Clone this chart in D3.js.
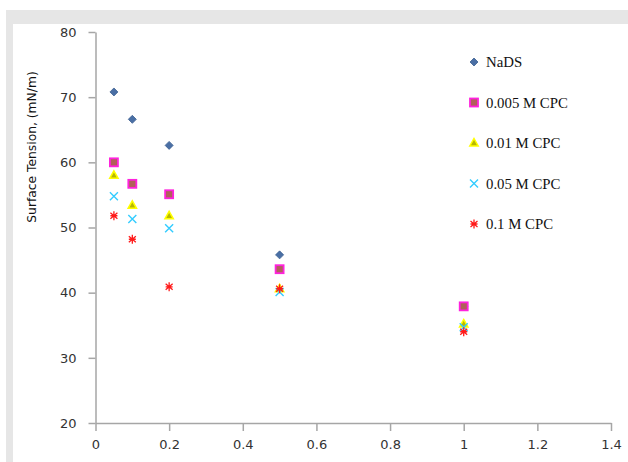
<!DOCTYPE html>
<html>
<head>
<meta charset="utf-8">
<script src="https://cdn.jsdelivr.net/npm/d3@7"></script>
<style>
  body { margin: 0; background: #fff; }
  svg { display: block; }
</style>
</head>
<body>
<div id="chart"></div>
<script>
// concentrations (x) and surface tension values per series
var conc = [0.05, 0.1, 0.2, 0.5, 1];
var nads = [70.8, 66.6, 62.6, 45.8, 37.9];
var cpc005 = [60.0, 56.7, 55.1, 43.6, 37.9];
var cpc01 = [58.0, 53.4, 51.8, 40.6, 35.2];
var cpc05 = [54.8, 51.3, 49.9, 40.1, 34.7];
var cpc1 = [51.8, 48.2, 40.9, 40.6, 34.0];
var seriesNames = ["NaDS", "0.005 M CPC", "0.01 M CPC", "0.05 M CPC", "0.1 M CPC"];
var xTicks = [0, 0.2, 0.4, 0.6, 0.8, 1, 1.2, 1.4];
var yTicks = [20, 30, 40, 50, 60, 70, 80];

var W = 628, H = 462;
var svg = d3.select("#chart").append("svg")
    .attr("width", W)
    .attr("height", H);

// gray frame bands
svg.append("rect").attr("x", 6).attr("y", 10).attr("width", W - 6).attr("height", 14).attr("fill", "#e6e6e6");
svg.append("rect").attr("x", 6).attr("y", 10).attr("width", 7).attr("height", H - 10).attr("fill", "#e6e6e6");

var x = d3.scaleLinear().domain([0, 1.4]).range([95.5, 611]);
var y = d3.scaleLinear().domain([20, 80]).range([423, 32]);

var axisColor = "#a6a6a6";

var yAxis = svg.append("g")
    .attr("transform", "translate(95.5,0)")
    .call(d3.axisLeft(y).tickValues(yTicks).tickSize(7).tickPadding(12).tickSizeOuter(0));
var xAxis = svg.append("g")
    .attr("transform", "translate(0,423)")
    .call(d3.axisBottom(x).tickValues(xTicks).tickSize(8).tickPadding(9)
        .tickFormat(d3.format("~g")).tickSizeOuter(0));

[xAxis, yAxis].forEach(function(g) {
    g.select(".domain").attr("stroke", axisColor).attr("stroke-width", 1.5);
    g.selectAll(".tick line").attr("stroke", axisColor).attr("stroke-width", 1.5);
    g.selectAll(".tick text")
        .attr("fill", "#333")
        .style("font-family", "'DejaVu Sans', sans-serif")
        .style("font-size", "13px");
});

svg.append("text")
    .attr("transform", "translate(36,147) rotate(-90)")
    .attr("text-anchor", "middle")
    .style("font-family", "'DejaVu Sans', sans-serif")
    .style("font-size", "12.3px")
    .attr("fill", "#111")
    .text("Surface Tension, (mN/m)");

// marker drawers
function diamond(g) {
    g.append("path").attr("d", "M0,-4L4,0L0,4L-4,0Z").attr("fill", "#4a6fa5").attr("stroke", "#3c5f91").attr("stroke-width", 0.8);
}
function square(g) {
    g.append("rect").attr("x", -4).attr("y", -4).attr("width", 8).attr("height", 8)
        .attr("fill", "#b0605a").attr("stroke", "#ff22dd").attr("stroke-width", 1.8);
}
function triangle(g) {
    g.append("path").attr("d", "M0,-4.5L4.2,3L-4.2,3Z").attr("fill", "#b8b800").attr("stroke", "#ffff00").attr("stroke-width", 1.5);
}
function cross(g) {
    g.append("path").attr("d", "M-4,-4L4,4M-4,4L4,-4").attr("stroke", "#33ccff").attr("stroke-width", 1.4).attr("fill", "none");
}
function star(g) {
    g.append("path").attr("d", "M-3.5,-3L3.5,3M-3.5,3L3.5,-3M0,-4.5L0,4.5M-3.5,0L3.5,0")
        .attr("stroke", "#ff1a1a").attr("stroke-width", 1.3).attr("fill", "none");
}

var series = [
    { name: seriesNames[0], values: nads, draw: diamond },
    { name: seriesNames[1], values: cpc005, draw: square },
    { name: seriesNames[2], values: cpc01, draw: triangle },
    { name: seriesNames[3], values: cpc05, draw: cross },
    { name: seriesNames[4], values: cpc1, draw: star }
];

series.forEach(function(s) {
    var pts = svg.append("g").selectAll("g")
        .data(s.values)
        .enter()
        .append("g")
        .attr("transform", function(d, i) { return "translate(" + x(conc[i]) + "," + y(d) + ")"; });
    pts.each(function() { s.draw(d3.select(this)); });
});

// legend
var legend = svg.append("g").attr("transform", "translate(474,62)");
series.forEach(function(s, i) {
    var row = legend.append("g").attr("transform", "translate(0," + (i * 40.5) + ")");
    s.draw(row.append("g"));
    row.append("text")
        .attr("x", 12)
        .attr("y", 5)
        .style("font-family", "'Liberation Serif', serif")
        .style("font-size", "14.8px")
        .attr("fill", "#111")
        .text(s.name);
});
</script>
</body>
</html>
